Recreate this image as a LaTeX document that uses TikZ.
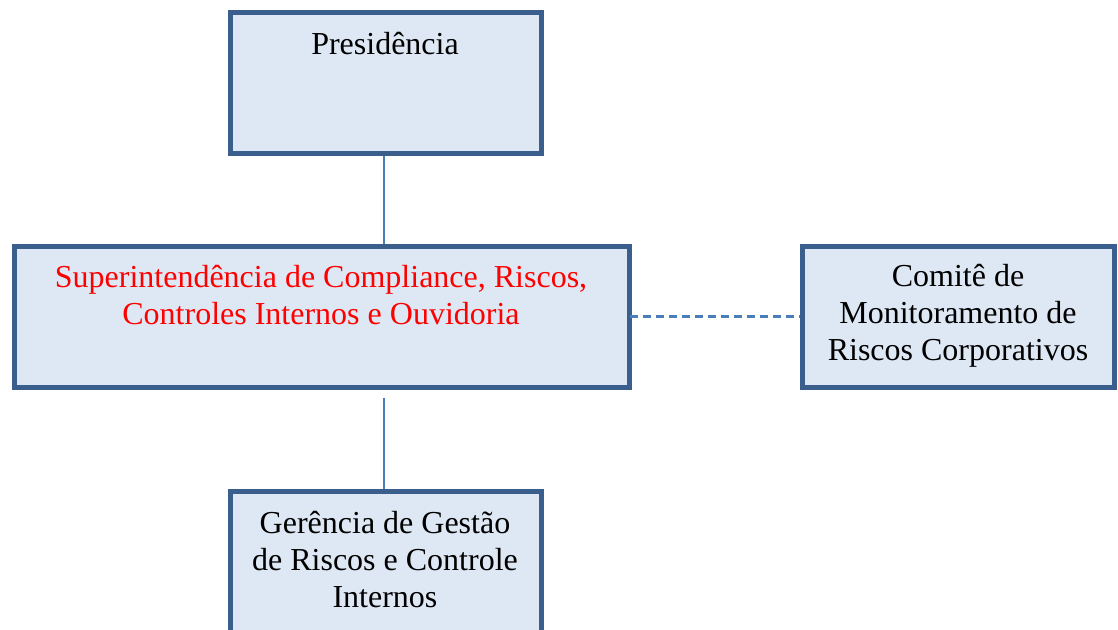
\documentclass[tikz,border=0pt]{standalone}
\usepackage{fontspec}
\setmainfont{Liberation Serif}
\definecolor{boxborder}{RGB}{58,95,140}
\definecolor{boxfill}{RGB}{222,232,244}
\definecolor{linkblue}{RGB}{74,126,187}
\definecolor{redtext}{RGB}{255,0,0}
\begin{document}
\begin{tikzpicture}[x=1pt,y=-1pt,
  orgbox/.style={draw=boxborder,fill=boxfill,line width=5pt,rectangle,inner sep=0pt},
  lbl/.style={anchor=base,inner sep=0pt,font=\fontsize{32}{37}\selectfont},
  link/.style={draw=linkblue,line width=2pt},
  dlink/.style={draw=linkblue,line width=2.2pt,dash pattern=on 8pt off 5pt}]
\useasboundingbox (0,0) rectangle (1118,629);
\clip (0,0) rectangle (1118,629);
% boxes
\node[orgbox,minimum width=311pt,minimum height=141pt] (pres) at (385.5,82.5) {};
\node[orgbox,minimum width=615pt,minimum height=141pt] (sup) at (321.5,316.5) {};
\node[orgbox,minimum width=312pt,minimum height=141pt] (com) at (958,316.5) {};
\node[orgbox,minimum width=311pt,minimum height=149pt] (ger) at (385.5,565.5) {};
% texts
\node[lbl] (presT) at (385,54) {Presidência};
\node[lbl,text=redtext] (supT1) at (321,287) {Superintendência de Compliance, Riscos,};
\node[lbl,text=redtext] (supT2) at (321,324) {Controles Internos e Ouvidoria};
\node[lbl] (comT1) at (958,286) {Comitê de};
\node[lbl] (comT2) at (958,323) {Monitoramento de};
\node[lbl] (comT3) at (958,360) {Riscos Corporativos};
\node[lbl] (gerT1) at (385,533) {Gerência de Gestão};
\node[lbl] (gerT2) at (385,570) {de Riscos e Controle};
\node[lbl] (gerT3) at (385,607) {Internos};
% connectors
\coordinate (presB) at ([xshift=-1.5pt]pres.south);
\coordinate (supT) at (presB |- sup.north);
\coordinate (gerT) at ([xshift=-1.5pt]ger.north);
\coordinate (supB) at ([yshift=-8pt]gerT |- sup.south);
\draw[link] (presB) -- (supT);
\draw[link] (supB) -- (gerT);
\draw[dlink] ([xshift=-2pt]sup.east) -- (com.west);
\end{tikzpicture}
\end{document}
